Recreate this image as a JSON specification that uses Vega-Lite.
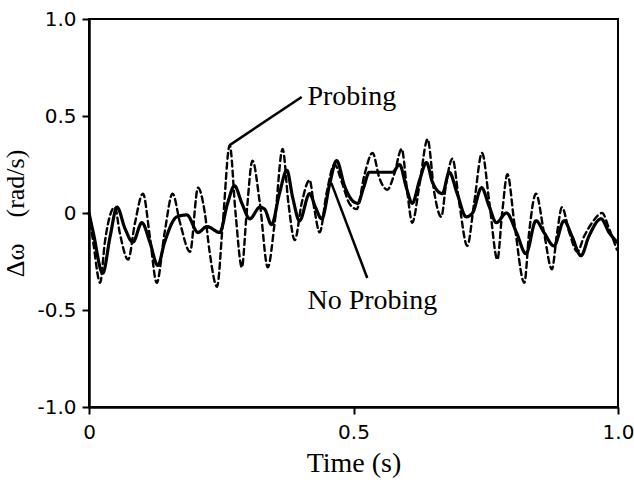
{
  "$schema": "https://vega.github.io/schema/vega-lite/v6.json",
  "autosize": "none",
  "width": 529,
  "height": 388,
  "padding": {"left": 89, "top": 19, "right": 16, "bottom": 87},
  "background": "white",
  "config": {
    "view": {"stroke": "black", "strokeWidth": 2},
    "axis": {
      "domainColor": "black", "domainWidth": 2.5, "tickColor": "black", "tickWidth": 2,
      "tickSize": 7, "grid": false, "labelFont": "DejaVu Sans", "labelFontSize": 20,
      "labelColor": "black", "titleFont": "Liberation Serif", "titleFontSize": 28,
      "titleFontWeight": "normal", "titleColor": "black", "labelFlush": false
    }
  },
  "datasets": {
    "series": [
      {"t": 0.000, "v": 0.00, "s": "No Probing"},
      {"t": 0.008, "v": -0.10, "s": "No Probing"},
      {"t": 0.026, "v": -0.31, "s": "No Probing"},
      {"t": 0.040, "v": -0.12, "s": "No Probing"},
      {"t": 0.053, "v": 0.03, "s": "No Probing"},
      {"t": 0.068, "v": -0.08, "s": "No Probing"},
      {"t": 0.083, "v": -0.15, "s": "No Probing"},
      {"t": 0.100, "v": -0.05, "s": "No Probing"},
      {"t": 0.115, "v": -0.15, "s": "No Probing"},
      {"t": 0.130, "v": -0.27, "s": "No Probing"},
      {"t": 0.143, "v": -0.15, "s": "No Probing"},
      {"t": 0.166, "v": -0.02, "s": "No Probing"},
      {"t": 0.185, "v": -0.01, "s": "No Probing"},
      {"t": 0.206, "v": -0.10, "s": "No Probing"},
      {"t": 0.223, "v": -0.07, "s": "No Probing"},
      {"t": 0.247, "v": -0.10, "s": "No Probing"},
      {"t": 0.262, "v": 0.05, "s": "No Probing"},
      {"t": 0.275, "v": 0.14, "s": "No Probing"},
      {"t": 0.289, "v": 0.05, "s": "No Probing"},
      {"t": 0.304, "v": -0.03, "s": "No Probing"},
      {"t": 0.323, "v": 0.03, "s": "No Probing"},
      {"t": 0.332, "v": 0.02, "s": "No Probing"},
      {"t": 0.345, "v": -0.06, "s": "No Probing"},
      {"t": 0.360, "v": 0.10, "s": "No Probing"},
      {"t": 0.374, "v": 0.22, "s": "No Probing"},
      {"t": 0.385, "v": 0.08, "s": "No Probing"},
      {"t": 0.398, "v": -0.04, "s": "No Probing"},
      {"t": 0.417, "v": 0.10, "s": "No Probing"},
      {"t": 0.428, "v": 0.03, "s": "No Probing"},
      {"t": 0.440, "v": -0.03, "s": "No Probing"},
      {"t": 0.455, "v": 0.15, "s": "No Probing"},
      {"t": 0.468, "v": 0.27, "s": "No Probing"},
      {"t": 0.483, "v": 0.14, "s": "No Probing"},
      {"t": 0.496, "v": 0.07, "s": "No Probing"},
      {"t": 0.508, "v": 0.05, "s": "No Probing"},
      {"t": 0.519, "v": 0.13, "s": "No Probing"},
      {"t": 0.530, "v": 0.21, "s": "No Probing"},
      {"t": 0.549, "v": 0.21, "s": "No Probing"},
      {"t": 0.574, "v": 0.21, "s": "No Probing"},
      {"t": 0.587, "v": 0.25, "s": "No Probing"},
      {"t": 0.600, "v": 0.13, "s": "No Probing"},
      {"t": 0.611, "v": 0.05, "s": "No Probing"},
      {"t": 0.625, "v": 0.17, "s": "No Probing"},
      {"t": 0.638, "v": 0.26, "s": "No Probing"},
      {"t": 0.649, "v": 0.16, "s": "No Probing"},
      {"t": 0.668, "v": 0.10, "s": "No Probing"},
      {"t": 0.681, "v": 0.21, "s": "No Probing"},
      {"t": 0.696, "v": 0.10, "s": "No Probing"},
      {"t": 0.713, "v": -0.02, "s": "No Probing"},
      {"t": 0.725, "v": 0.00, "s": "No Probing"},
      {"t": 0.742, "v": 0.13, "s": "No Probing"},
      {"t": 0.757, "v": 0.03, "s": "No Probing"},
      {"t": 0.770, "v": -0.05, "s": "No Probing"},
      {"t": 0.789, "v": 0.00, "s": "No Probing"},
      {"t": 0.808, "v": -0.10, "s": "No Probing"},
      {"t": 0.826, "v": -0.21, "s": "No Probing"},
      {"t": 0.845, "v": -0.04, "s": "No Probing"},
      {"t": 0.860, "v": -0.10, "s": "No Probing"},
      {"t": 0.879, "v": -0.17, "s": "No Probing"},
      {"t": 0.898, "v": -0.04, "s": "No Probing"},
      {"t": 0.913, "v": -0.12, "s": "No Probing"},
      {"t": 0.930, "v": -0.22, "s": "No Probing"},
      {"t": 0.945, "v": -0.12, "s": "No Probing"},
      {"t": 0.968, "v": -0.03, "s": "No Probing"},
      {"t": 0.983, "v": -0.10, "s": "No Probing"},
      {"t": 0.998, "v": -0.15, "s": "No Probing"},
      {"t": 0.000, "v": 0.00, "s": "Probing"},
      {"t": 0.008, "v": -0.15, "s": "Probing"},
      {"t": 0.021, "v": -0.36, "s": "Probing"},
      {"t": 0.030, "v": -0.15, "s": "Probing"},
      {"t": 0.040, "v": -0.01, "s": "Probing"},
      {"t": 0.049, "v": 0.03, "s": "Probing"},
      {"t": 0.058, "v": -0.10, "s": "Probing"},
      {"t": 0.074, "v": -0.24, "s": "Probing"},
      {"t": 0.087, "v": -0.05, "s": "Probing"},
      {"t": 0.102, "v": 0.10, "s": "Probing"},
      {"t": 0.115, "v": -0.12, "s": "Probing"},
      {"t": 0.128, "v": -0.36, "s": "Probing"},
      {"t": 0.143, "v": -0.10, "s": "Probing"},
      {"t": 0.158, "v": 0.10, "s": "Probing"},
      {"t": 0.172, "v": -0.05, "s": "Probing"},
      {"t": 0.191, "v": -0.20, "s": "Probing"},
      {"t": 0.206, "v": 0.13, "s": "Probing"},
      {"t": 0.219, "v": 0.00, "s": "Probing"},
      {"t": 0.228, "v": -0.20, "s": "Probing"},
      {"t": 0.242, "v": -0.38, "s": "Probing"},
      {"t": 0.253, "v": -0.05, "s": "Probing"},
      {"t": 0.266, "v": 0.35, "s": "Probing"},
      {"t": 0.277, "v": 0.00, "s": "Probing"},
      {"t": 0.289, "v": -0.28, "s": "Probing"},
      {"t": 0.298, "v": 0.00, "s": "Probing"},
      {"t": 0.309, "v": 0.27, "s": "Probing"},
      {"t": 0.323, "v": 0.05, "s": "Probing"},
      {"t": 0.338, "v": -0.28, "s": "Probing"},
      {"t": 0.351, "v": -0.05, "s": "Probing"},
      {"t": 0.366, "v": 0.33, "s": "Probing"},
      {"t": 0.377, "v": 0.05, "s": "Probing"},
      {"t": 0.389, "v": -0.14, "s": "Probing"},
      {"t": 0.402, "v": 0.05, "s": "Probing"},
      {"t": 0.417, "v": 0.17, "s": "Probing"},
      {"t": 0.426, "v": 0.02, "s": "Probing"},
      {"t": 0.436, "v": -0.10, "s": "Probing"},
      {"t": 0.449, "v": 0.10, "s": "Probing"},
      {"t": 0.464, "v": 0.25, "s": "Probing"},
      {"t": 0.479, "v": 0.15, "s": "Probing"},
      {"t": 0.492, "v": 0.05, "s": "Probing"},
      {"t": 0.506, "v": 0.02, "s": "Probing"},
      {"t": 0.521, "v": 0.20, "s": "Probing"},
      {"t": 0.536, "v": 0.31, "s": "Probing"},
      {"t": 0.549, "v": 0.18, "s": "Probing"},
      {"t": 0.564, "v": 0.12, "s": "Probing"},
      {"t": 0.577, "v": 0.20, "s": "Probing"},
      {"t": 0.591, "v": 0.33, "s": "Probing"},
      {"t": 0.602, "v": 0.10, "s": "Probing"},
      {"t": 0.611, "v": -0.05, "s": "Probing"},
      {"t": 0.625, "v": 0.15, "s": "Probing"},
      {"t": 0.640, "v": 0.38, "s": "Probing"},
      {"t": 0.653, "v": 0.10, "s": "Probing"},
      {"t": 0.666, "v": -0.02, "s": "Probing"},
      {"t": 0.675, "v": 0.15, "s": "Probing"},
      {"t": 0.687, "v": 0.28, "s": "Probing"},
      {"t": 0.700, "v": 0.05, "s": "Probing"},
      {"t": 0.715, "v": -0.17, "s": "Probing"},
      {"t": 0.728, "v": 0.05, "s": "Probing"},
      {"t": 0.743, "v": 0.31, "s": "Probing"},
      {"t": 0.757, "v": 0.05, "s": "Probing"},
      {"t": 0.772, "v": -0.24, "s": "Probing"},
      {"t": 0.781, "v": 0.00, "s": "Probing"},
      {"t": 0.791, "v": 0.20, "s": "Probing"},
      {"t": 0.804, "v": -0.05, "s": "Probing"},
      {"t": 0.823, "v": -0.36, "s": "Probing"},
      {"t": 0.832, "v": -0.10, "s": "Probing"},
      {"t": 0.845, "v": 0.10, "s": "Probing"},
      {"t": 0.860, "v": -0.10, "s": "Probing"},
      {"t": 0.875, "v": -0.29, "s": "Probing"},
      {"t": 0.885, "v": -0.10, "s": "Probing"},
      {"t": 0.894, "v": 0.03, "s": "Probing"},
      {"t": 0.908, "v": -0.10, "s": "Probing"},
      {"t": 0.923, "v": -0.20, "s": "Probing"},
      {"t": 0.936, "v": -0.12, "s": "Probing"},
      {"t": 0.951, "v": -0.05, "s": "Probing"},
      {"t": 0.970, "v": 0.00, "s": "Probing"},
      {"t": 0.983, "v": -0.08, "s": "Probing"},
      {"t": 0.998, "v": -0.19, "s": "Probing"}
    ],
    "leaders": [
      {"t": 0.402, "v": 0.598, "t2": 0.266, "v2": 0.35},
      {"t": 0.458, "v": 0.155, "t2": 0.526, "v2": -0.335}
    ],
    "labels": [
      {"t": 0.413, "v": 0.60, "label": "Probing"},
      {"t": 0.413, "v": -0.455, "label": "No Probing"}
    ]
  },
  "layer": [
    {
      "data": {"name": "series"},
      "mark": {"type": "line", "color": "black", "strokeCap": "round", "strokeJoin": "round", "interpolate": "monotone"},
      "encoding": {
        "x": {"field": "t", "type": "quantitative",
          "scale": {"domain": [0, 1], "nice": false, "zero": false},
          "axis": {"values": [0, 0.5, 1], "title": "Time (s)", "labelPadding": 8,
            "labelExpr": "datum.value == 0 ? '0' : format(datum.value, '.1f')", "titlePadding": 7}},
        "y": {"field": "v", "type": "quantitative",
          "scale": {"domain": [-1, 1], "nice": false},
          "axis": {"values": [-1, -0.5, 0, 0.5, 1], "title": "Δω\u00a0\u00a0\u00a0\u00a0(rad/s)", "labelPadding": 6,
            "titleFontSize": 26,
            "labelExpr": "datum.value == 0 ? '0' : replace(format(datum.value, '.1f'), '−', '-')", "titlePadding": 8}},
        "detail": {"field": "s"},
        "strokeDash": {"field": "s", "type": "nominal",
          "scale": {"domain": ["No Probing", "Probing"], "range": [[1, 0], [6, 4]]}, "legend": null},
        "strokeWidth": {"field": "s", "type": "nominal",
          "scale": {"domain": ["No Probing", "Probing"], "range": [3.2, 2.4]}, "legend": null}
      }
    },
    {
      "data": {"name": "leaders"},
      "mark": {"type": "rule", "color": "black", "strokeWidth": 2.5},
      "encoding": {
        "x": {"field": "t", "type": "quantitative"},
        "y": {"field": "v", "type": "quantitative"},
        "x2": {"field": "t2"},
        "y2": {"field": "v2"}
      }
    },
    {
      "data": {"name": "labels"},
      "mark": {"type": "text", "align": "left", "baseline": "middle", "font": "Liberation Serif", "fontSize": 28, "color": "black"},
      "encoding": {
        "x": {"field": "t", "type": "quantitative"},
        "y": {"field": "v", "type": "quantitative"},
        "text": {"field": "label"}
      }
    }
  ]
}
